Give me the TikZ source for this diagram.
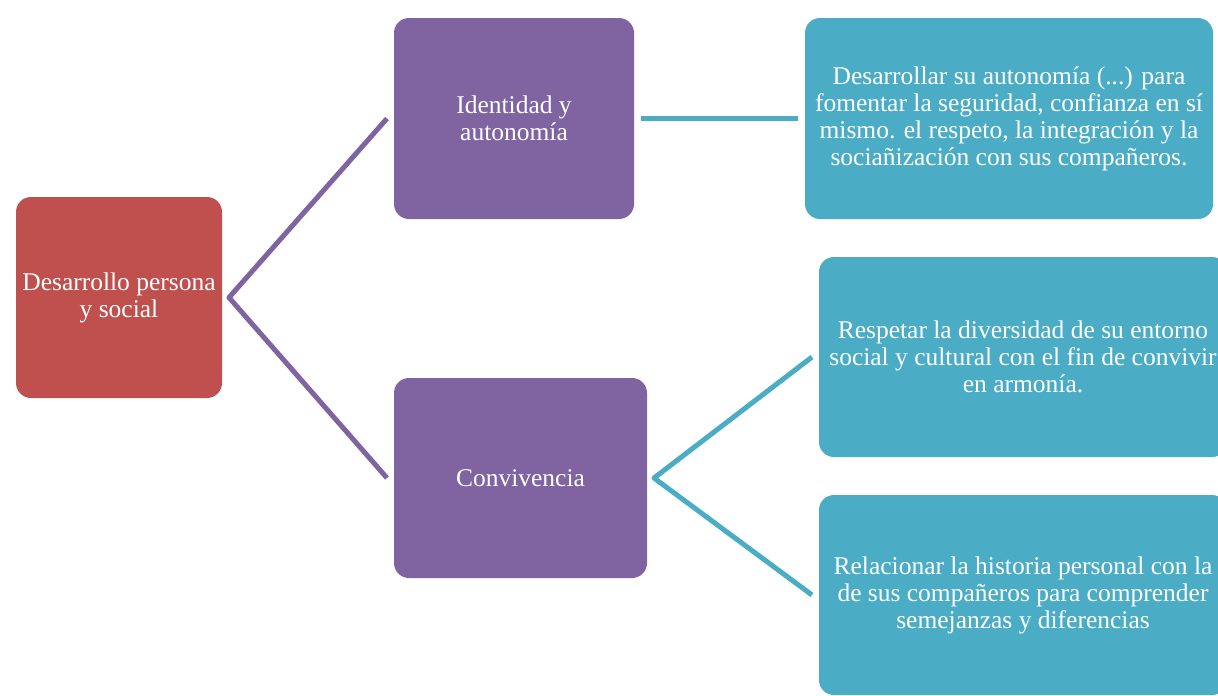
\documentclass[tikz,border=0pt]{standalone}
\usepackage{fontspec}
\setmainfont{Liberation Serif}
\usepackage{tikz}

\definecolor{rojo}{HTML}{C0504D}
\definecolor{morado}{HTML}{8064A2}
\definecolor{turquesa}{HTML}{4BACC6}

\tikzset{
	caja/.style={rounded corners=15pt, inner sep=0pt, outer sep=7pt, align=center, text=white,
		font=\fontsize{25.5}{27}\selectfont},
	enlace/.style={line width=5pt, line join=round}
}

\begin{document}
\begin{tikzpicture}[x=1pt,y=-1pt]
	
	\useasboundingbox (0,0) rectangle (1218,696);
	\clip (0,0) rectangle (1218,696);
	
	\node[caja, fill=rojo, minimum width=206pt, minimum height=201pt] (social) at (119,297.5) {Desarrollo persona\\y social};
	
	\node[caja, fill=morado, minimum width=240pt, minimum height=201pt] (identidad) at (514,118.5) {Identidad y\\autonomía};
	\node[caja, fill=morado, minimum width=253pt, minimum height=200pt] (convivencia) at (520.5,478) {Convivencia};
	
	\node[caja, fill=turquesa, minimum width=408pt, minimum height=201pt] (autonomia) at (1009,118.5) {Desarrollar su autonomía (...) para\\fomentar la seguridad, confianza en sí\\mismo. el respeto, la integración y la\\sociañización con sus compañeros.};
	\node[caja, fill=turquesa, minimum width=408pt, minimum height=200pt] (diversidad) at (1023,357) {Respetar la diversidad de su entorno\\social y cultural con el fin de convivir\\en armonía.};
	\node[caja, fill=turquesa, minimum width=408pt, minimum height=200pt] (historia) at (1023,595) {Relacionar la historia personal con la\\de sus compañeros para comprender\\semejanzas y diferencias};
	
	\draw[enlace, morado] (identidad.west) -- (social.east) -- (convivencia.west);
	\draw[enlace, turquesa] (identidad.east) -- (autonomia.west);
	\draw[enlace, turquesa] (diversidad.west) -- (convivencia.east) -- (historia.west);
	
\end{tikzpicture}
\end{document}
